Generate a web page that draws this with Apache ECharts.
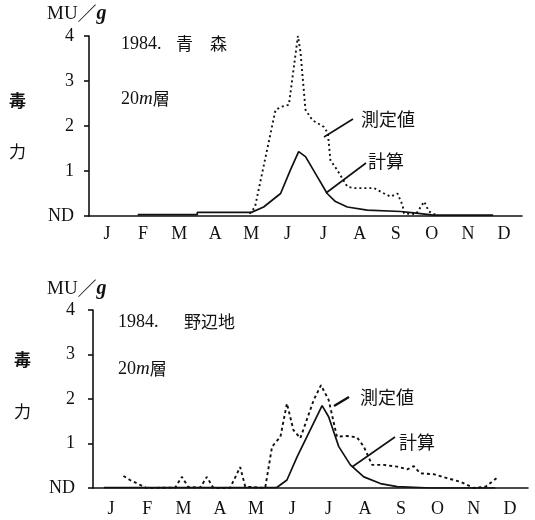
<!DOCTYPE html>
<html>
<head>
<meta charset="utf-8">
<script src="https://cdn.jsdelivr.net/npm/echarts@6/dist/echarts.min.js"></script>
<style>
html,body{margin:0;padding:0;background:#fff;}
#chart{width:535px;height:520px;}
</style>
</head>
<body>
<div id="chart"></div>
<script>
// 月ラベル
var months = ['J','F','M','A','M','J','J','A','S','O','N','D'];
var yTicks = ['ND','1','2','3','4'];

// 青森 [月, MU/g]
var aomoriMeasured = [[4.45,0.05],[4.6,0.2],[5.17,2.36],[5.35,2.43],[5.54,2.47],[5.79,4.0],[5.86,3.65],[6.0,2.36],[6.19,2.13],[6.51,1.98],[6.62,1.84],[6.69,1.24],[6.88,1.02],[7.16,0.65],[7.34,0.62],[7.9,0.62],[8.18,0.5],[8.36,0.43],[8.55,0.5],[8.69,0.24],[8.73,0.06],[9.06,0.04],[9.29,0.32],[9.42,0.1],[9.6,0.03]];
var aomoriCalc = [[1.35,0.03],[3.0,0.03],[3.0,0.08],[4.5,0.08],[4.84,0.2],[5.31,0.5],[5.58,1.02],[5.81,1.43],[6.0,1.32],[6.33,0.87],[6.6,0.5],[6.83,0.32],[7.16,0.2],[7.71,0.13],[8.64,0.1],[9.0,0.07],[9.55,0.02],[11.2,0.02]];

// 野辺地
var noheijiMeasured = [[0.84,0.27],[1.02,0.18],[1.3,0.07],[1.48,0.0],[2.27,0.01],[2.45,0.25],[2.63,0.02],[2.96,0.01],[3.14,0.25],[3.32,0.0],[3.78,0.0],[4.06,0.47],[4.2,0.03],[4.75,0.0],[4.94,0.93],[5.17,1.15],[5.35,1.9],[5.53,1.3],[5.72,1.12],[6.09,1.98],[6.29,2.31],[6.5,1.98],[6.73,1.15],[7.0,1.17],[7.28,1.14],[7.47,0.93],[7.7,0.52],[8.02,0.52],[8.39,0.48],[8.67,0.42],[8.85,0.49],[9.03,0.33],[9.4,0.31],[9.77,0.22],[10.14,0.14],[10.5,0.0],[10.83,0.03],[11.15,0.23]];
var noheijiCalc = [[0.3,0.01],[5.07,0.01],[5.35,0.18],[5.63,0.7],[5.99,1.3],[6.32,1.85],[6.5,1.6],[6.78,0.93],[7.1,0.52],[7.47,0.25],[7.93,0.1],[8.39,0.03],[9.31,0.0],[11.1,0.0]];

var serif = '"Liberation Serif", "DejaVu Serif", serif';
var jp = '"Noto Sans CJK JP", sans-serif';
var ink = '#111';

function catAxis(g){
    return {
        type:'category', gridIndex:g, data:months, boundaryGap:true,
        axisLine:{lineStyle:{color:ink,width:1.6}},
        axisTick:{length:4,lineStyle:{color:ink,width:1.6}},
        axisLabel:{color:ink,fontFamily:serif,fontSize:18,margin:g==0?9:12}
    };
}
function valX(g){
    return {type:'value', gridIndex:g, min:0, max:12, show:false};
}
function yAx(g){
    return {
        type:'value', gridIndex:g, min:0, max:4, interval:1,
        axisLine:{show:true,lineStyle:{color:ink,width:1.6}},
        axisTick:{show:true,length:5,lineStyle:{color:ink,width:1.6}},
        splitLine:{show:false},
        axisLabel:{color:ink,fontFamily:serif,fontSize:18,margin:g==0?15:18,
            formatter:function(v){return yTicks[v];}}
    };
}
function line(xi,yi,data,dash){
    return {
        type:'line', xAxisIndex:xi, yAxisIndex:yi, data:data,
        showSymbol:false, animation:false, silent:true,
        lineStyle:{color:ink,width:dash?1.9:1.7,type:dash||'solid'}
    };
}
function label(x,y,s,font){
    return {type:'text',x:x,y:y,style:{text:s,fill:ink,font:font,verticalAlign:'middle'}};
}
function txtRich(x,y){
    return {type:'text',x:x,y:y,style:{
        text:'{a|20}{b|m}{c|層}',verticalAlign:'middle',
        rich:{a:{fontFamily:serif,fontSize:18,fill:ink},
              b:{fontFamily:serif,fontSize:19,fontStyle:'italic',fill:ink},
              c:{fontFamily:jp,fontSize:17,fill:ink}}}};
}
function seg(x1,y1,x2,y2,w){
    return {type:'line',shape:{x1:x1,y1:y1,x2:x2,y2:y2},style:{stroke:ink,lineWidth:w||1.6}};
}
function unit(x,y){
    return {type:'text',x:x,y:y,style:{
        text:'{a|MU}{b|／}{c|g}',verticalAlign:'middle',
        rich:{a:{fontFamily:serif,fontSize:19,fill:ink},
              b:{fontFamily:jp,fontSize:19,fill:ink},
              c:{fontFamily:serif,fontSize:20,fontStyle:'italic',fontWeight:'bold',fill:ink}}}};
}

var chart = echarts.init(document.getElementById('chart'));
chart.setOption({
    backgroundColor:'#fff',
    animation:false,
    grid:[
        {left:89,top:36,width:433,height:180},
        {left:93,top:310,width:435,height:178}
    ],
    xAxis:[catAxis(0),valX(0),catAxis(1),valX(1)],
    yAxis:[yAx(0),yAx(1)],
    series:[
        line(1,0,aomoriMeasured,[2,3]),
        line(1,0,aomoriCalc),
        line(3,1,noheijiMeasured,[3,3]),
        line(3,1,noheijiCalc)
    ],
    graphic:[
        unit(47,14),
        label(121,44,'1984.','18px '+serif),
        label(176,44,'青　森','17px '+jp),
        txtRich(121,99),
        label(9,101,'毒','bold 17px '+jp),
        label(9,152,'力','17px '+jp),
        label(361,119,'測定値','18px '+jp),
        label(368,161,'計算','18px '+jp),
        seg(324,137,353,119),
        seg(326,193,366,163),

        unit(47,289),
        label(118,322,'1984.','18px '+serif),
        label(184,322,'野辺地','17px '+jp),
        txtRich(118,369),
        label(14,360,'毒','bold 17px '+jp),
        label(14,412,'力','17px '+jp),
        label(360,397,'測定値','18px '+jp),
        label(399,442,'計算','18px '+jp),
        seg(334,406,349,397,2.4),
        seg(352,467,395,437)
    ]
});
</script>
</body>
</html>
